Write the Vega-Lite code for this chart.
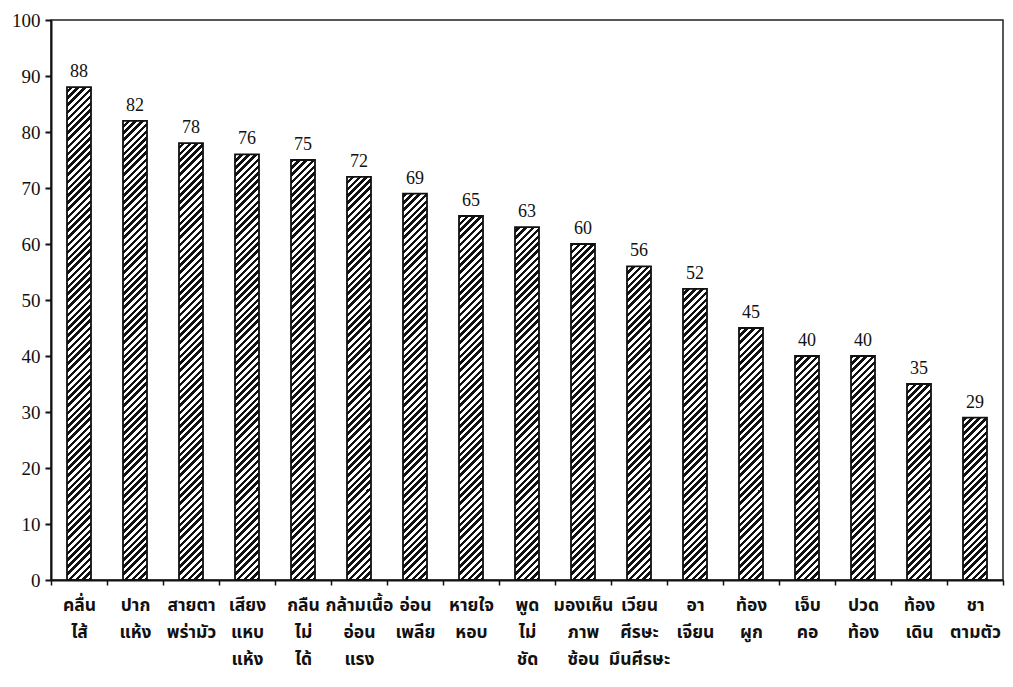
{
"$schema": "https://vega.github.io/schema/vega-lite/v6.json",
"width": 952, "height": 560,
"autosize": "none",
"padding": {"left": 51, "top": 20, "right": 10, "bottom": 107},
"background": "white",
"config": {
 "view": {"stroke": "#222", "strokeWidth": 1.5},
 "axisY": {"domainColor": "#111", "domainWidth": 2, "tickColor": "#111", "tickWidth": 2, "tickSize": 6, "labelFont": "Liberation Serif", "labelFontSize": 19, "labelColor": "#111", "labelPadding": 5, "grid": false, "title": null},
 "axisX": {"domainColor": "#111", "domainWidth": 2, "tickColor": "#111", "tickWidth": 1.5, "tickSize": 5, "tickBand": "extent", "labelFont": "Noto Sans Thai, Loma, Garuda, sans-serif", "labelFontSize": 17.5, "labelFontWeight": "bold", "labelColor": "#111", "labelAngle": 0, "labelPadding": 11, "labelLineHeight": 27, "labelBaseline": "top", "title": null, "grid": false}
},
"data": {"values": [
 {"symptom": "คลื่น|ไส้", "pct": 88},
 {"symptom": "ปาก|แห้ง", "pct": 82},
 {"symptom": "สายตา|พร่ามัว", "pct": 78},
 {"symptom": "เสียง|แหบ|แห้ง", "pct": 76},
 {"symptom": "กลืน|ไม่|ได้", "pct": 75},
 {"symptom": "กล้ามเนื้อ|อ่อน|แรง", "pct": 72},
 {"symptom": "อ่อน|เพลีย", "pct": 69},
 {"symptom": "หายใจ|หอบ", "pct": 65},
 {"symptom": "พูด|ไม่|ชัด", "pct": 63},
 {"symptom": "มองเห็น|ภาพ|ซ้อน", "pct": 60},
 {"symptom": "เวียน|ศีรษะ|มึนศีรษะ", "pct": 56},
 {"symptom": "อา|เจียน", "pct": 52},
 {"symptom": "ท้อง|ผูก", "pct": 45},
 {"symptom": "เจ็บ|คอ", "pct": 40},
 {"symptom": "ปวด|ท้อง", "pct": 40},
 {"symptom": "ท้อง|เดิน", "pct": 35},
 {"symptom": "ชา|ตามตัว", "pct": 29}
]},
"encoding": {
 "x": {"field": "symptom", "type": "nominal", "sort": null, "title": null,
  "scale": {"paddingInner": 0, "paddingOuter": 0},
  "axis": {"labelExpr": "split(datum.label, '|')"}}
},
"layer": [
 {"mark": {"type": "bar", "width": 24, "fill": {"gradient": "linear", "x1": 0, "y1": 0, "x2": 0.050151, "y2": 1.053167, "stops": [
{"offset":0,"color":"#111"},{"offset":0.00658,"color":"#111"},{"offset":0.00658,"color":"#fff"},{"offset":0.01316,"color":"#fff"},
{"offset":0.01316,"color":"#111"},{"offset":0.01974,"color":"#111"},{"offset":0.01974,"color":"#fff"},{"offset":0.02632,"color":"#fff"},
{"offset":0.02632,"color":"#111"},{"offset":0.03289,"color":"#111"},{"offset":0.03289,"color":"#fff"},{"offset":0.03947,"color":"#fff"},
{"offset":0.03947,"color":"#111"},{"offset":0.04605,"color":"#111"},{"offset":0.04605,"color":"#fff"},{"offset":0.05263,"color":"#fff"},
{"offset":0.05263,"color":"#111"},{"offset":0.05921,"color":"#111"},{"offset":0.05921,"color":"#fff"},{"offset":0.06579,"color":"#fff"},
{"offset":0.06579,"color":"#111"},{"offset":0.07237,"color":"#111"},{"offset":0.07237,"color":"#fff"},{"offset":0.07895,"color":"#fff"},
{"offset":0.07895,"color":"#111"},{"offset":0.08553,"color":"#111"},{"offset":0.08553,"color":"#fff"},{"offset":0.09211,"color":"#fff"},
{"offset":0.09211,"color":"#111"},{"offset":0.09868,"color":"#111"},{"offset":0.09868,"color":"#fff"},{"offset":0.10526,"color":"#fff"},
{"offset":0.10526,"color":"#111"},{"offset":0.11184,"color":"#111"},{"offset":0.11184,"color":"#fff"},{"offset":0.11842,"color":"#fff"},
{"offset":0.11842,"color":"#111"},{"offset":0.125,"color":"#111"},{"offset":0.125,"color":"#fff"},{"offset":0.13158,"color":"#fff"},
{"offset":0.13158,"color":"#111"},{"offset":0.13816,"color":"#111"},{"offset":0.13816,"color":"#fff"},{"offset":0.14474,"color":"#fff"},
{"offset":0.14474,"color":"#111"},{"offset":0.15132,"color":"#111"},{"offset":0.15132,"color":"#fff"},{"offset":0.15789,"color":"#fff"},
{"offset":0.15789,"color":"#111"},{"offset":0.16447,"color":"#111"},{"offset":0.16447,"color":"#fff"},{"offset":0.17105,"color":"#fff"},
{"offset":0.17105,"color":"#111"},{"offset":0.17763,"color":"#111"},{"offset":0.17763,"color":"#fff"},{"offset":0.18421,"color":"#fff"},
{"offset":0.18421,"color":"#111"},{"offset":0.19079,"color":"#111"},{"offset":0.19079,"color":"#fff"},{"offset":0.19737,"color":"#fff"},
{"offset":0.19737,"color":"#111"},{"offset":0.20395,"color":"#111"},{"offset":0.20395,"color":"#fff"},{"offset":0.21053,"color":"#fff"},
{"offset":0.21053,"color":"#111"},{"offset":0.21711,"color":"#111"},{"offset":0.21711,"color":"#fff"},{"offset":0.22368,"color":"#fff"},
{"offset":0.22368,"color":"#111"},{"offset":0.23026,"color":"#111"},{"offset":0.23026,"color":"#fff"},{"offset":0.23684,"color":"#fff"},
{"offset":0.23684,"color":"#111"},{"offset":0.24342,"color":"#111"},{"offset":0.24342,"color":"#fff"},{"offset":0.25,"color":"#fff"},
{"offset":0.25,"color":"#111"},{"offset":0.25658,"color":"#111"},{"offset":0.25658,"color":"#fff"},{"offset":0.26316,"color":"#fff"},
{"offset":0.26316,"color":"#111"},{"offset":0.26974,"color":"#111"},{"offset":0.26974,"color":"#fff"},{"offset":0.27632,"color":"#fff"},
{"offset":0.27632,"color":"#111"},{"offset":0.28289,"color":"#111"},{"offset":0.28289,"color":"#fff"},{"offset":0.28947,"color":"#fff"},
{"offset":0.28947,"color":"#111"},{"offset":0.29605,"color":"#111"},{"offset":0.29605,"color":"#fff"},{"offset":0.30263,"color":"#fff"},
{"offset":0.30263,"color":"#111"},{"offset":0.30921,"color":"#111"},{"offset":0.30921,"color":"#fff"},{"offset":0.31579,"color":"#fff"},
{"offset":0.31579,"color":"#111"},{"offset":0.32237,"color":"#111"},{"offset":0.32237,"color":"#fff"},{"offset":0.32895,"color":"#fff"},
{"offset":0.32895,"color":"#111"},{"offset":0.33553,"color":"#111"},{"offset":0.33553,"color":"#fff"},{"offset":0.34211,"color":"#fff"},
{"offset":0.34211,"color":"#111"},{"offset":0.34868,"color":"#111"},{"offset":0.34868,"color":"#fff"},{"offset":0.35526,"color":"#fff"},
{"offset":0.35526,"color":"#111"},{"offset":0.36184,"color":"#111"},{"offset":0.36184,"color":"#fff"},{"offset":0.36842,"color":"#fff"},
{"offset":0.36842,"color":"#111"},{"offset":0.375,"color":"#111"},{"offset":0.375,"color":"#fff"},{"offset":0.38158,"color":"#fff"},
{"offset":0.38158,"color":"#111"},{"offset":0.38816,"color":"#111"},{"offset":0.38816,"color":"#fff"},{"offset":0.39474,"color":"#fff"},
{"offset":0.39474,"color":"#111"},{"offset":0.40132,"color":"#111"},{"offset":0.40132,"color":"#fff"},{"offset":0.40789,"color":"#fff"},
{"offset":0.40789,"color":"#111"},{"offset":0.41447,"color":"#111"},{"offset":0.41447,"color":"#fff"},{"offset":0.42105,"color":"#fff"},
{"offset":0.42105,"color":"#111"},{"offset":0.42763,"color":"#111"},{"offset":0.42763,"color":"#fff"},{"offset":0.43421,"color":"#fff"},
{"offset":0.43421,"color":"#111"},{"offset":0.44079,"color":"#111"},{"offset":0.44079,"color":"#fff"},{"offset":0.44737,"color":"#fff"},
{"offset":0.44737,"color":"#111"},{"offset":0.45395,"color":"#111"},{"offset":0.45395,"color":"#fff"},{"offset":0.46053,"color":"#fff"},
{"offset":0.46053,"color":"#111"},{"offset":0.46711,"color":"#111"},{"offset":0.46711,"color":"#fff"},{"offset":0.47368,"color":"#fff"},
{"offset":0.47368,"color":"#111"},{"offset":0.48026,"color":"#111"},{"offset":0.48026,"color":"#fff"},{"offset":0.48684,"color":"#fff"},
{"offset":0.48684,"color":"#111"},{"offset":0.49342,"color":"#111"},{"offset":0.49342,"color":"#fff"},{"offset":0.5,"color":"#fff"},
{"offset":0.5,"color":"#111"},{"offset":0.50658,"color":"#111"},{"offset":0.50658,"color":"#fff"},{"offset":0.51316,"color":"#fff"},
{"offset":0.51316,"color":"#111"},{"offset":0.51974,"color":"#111"},{"offset":0.51974,"color":"#fff"},{"offset":0.52632,"color":"#fff"},
{"offset":0.52632,"color":"#111"},{"offset":0.53289,"color":"#111"},{"offset":0.53289,"color":"#fff"},{"offset":0.53947,"color":"#fff"},
{"offset":0.53947,"color":"#111"},{"offset":0.54605,"color":"#111"},{"offset":0.54605,"color":"#fff"},{"offset":0.55263,"color":"#fff"},
{"offset":0.55263,"color":"#111"},{"offset":0.55921,"color":"#111"},{"offset":0.55921,"color":"#fff"},{"offset":0.56579,"color":"#fff"},
{"offset":0.56579,"color":"#111"},{"offset":0.57237,"color":"#111"},{"offset":0.57237,"color":"#fff"},{"offset":0.57895,"color":"#fff"},
{"offset":0.57895,"color":"#111"},{"offset":0.58553,"color":"#111"},{"offset":0.58553,"color":"#fff"},{"offset":0.59211,"color":"#fff"},
{"offset":0.59211,"color":"#111"},{"offset":0.59868,"color":"#111"},{"offset":0.59868,"color":"#fff"},{"offset":0.60526,"color":"#fff"},
{"offset":0.60526,"color":"#111"},{"offset":0.61184,"color":"#111"},{"offset":0.61184,"color":"#fff"},{"offset":0.61842,"color":"#fff"},
{"offset":0.61842,"color":"#111"},{"offset":0.625,"color":"#111"},{"offset":0.625,"color":"#fff"},{"offset":0.63158,"color":"#fff"},
{"offset":0.63158,"color":"#111"},{"offset":0.63816,"color":"#111"},{"offset":0.63816,"color":"#fff"},{"offset":0.64474,"color":"#fff"},
{"offset":0.64474,"color":"#111"},{"offset":0.65132,"color":"#111"},{"offset":0.65132,"color":"#fff"},{"offset":0.65789,"color":"#fff"},
{"offset":0.65789,"color":"#111"},{"offset":0.66447,"color":"#111"},{"offset":0.66447,"color":"#fff"},{"offset":0.67105,"color":"#fff"},
{"offset":0.67105,"color":"#111"},{"offset":0.67763,"color":"#111"},{"offset":0.67763,"color":"#fff"},{"offset":0.68421,"color":"#fff"},
{"offset":0.68421,"color":"#111"},{"offset":0.69079,"color":"#111"},{"offset":0.69079,"color":"#fff"},{"offset":0.69737,"color":"#fff"},
{"offset":0.69737,"color":"#111"},{"offset":0.70395,"color":"#111"},{"offset":0.70395,"color":"#fff"},{"offset":0.71053,"color":"#fff"},
{"offset":0.71053,"color":"#111"},{"offset":0.71711,"color":"#111"},{"offset":0.71711,"color":"#fff"},{"offset":0.72368,"color":"#fff"},
{"offset":0.72368,"color":"#111"},{"offset":0.73026,"color":"#111"},{"offset":0.73026,"color":"#fff"},{"offset":0.73684,"color":"#fff"},
{"offset":0.73684,"color":"#111"},{"offset":0.74342,"color":"#111"},{"offset":0.74342,"color":"#fff"},{"offset":0.75,"color":"#fff"},
{"offset":0.75,"color":"#111"},{"offset":0.75658,"color":"#111"},{"offset":0.75658,"color":"#fff"},{"offset":0.76316,"color":"#fff"},
{"offset":0.76316,"color":"#111"},{"offset":0.76974,"color":"#111"},{"offset":0.76974,"color":"#fff"},{"offset":0.77632,"color":"#fff"},
{"offset":0.77632,"color":"#111"},{"offset":0.78289,"color":"#111"},{"offset":0.78289,"color":"#fff"},{"offset":0.78947,"color":"#fff"},
{"offset":0.78947,"color":"#111"},{"offset":0.79605,"color":"#111"},{"offset":0.79605,"color":"#fff"},{"offset":0.80263,"color":"#fff"},
{"offset":0.80263,"color":"#111"},{"offset":0.80921,"color":"#111"},{"offset":0.80921,"color":"#fff"},{"offset":0.81579,"color":"#fff"},
{"offset":0.81579,"color":"#111"},{"offset":0.82237,"color":"#111"},{"offset":0.82237,"color":"#fff"},{"offset":0.82895,"color":"#fff"},
{"offset":0.82895,"color":"#111"},{"offset":0.83553,"color":"#111"},{"offset":0.83553,"color":"#fff"},{"offset":0.84211,"color":"#fff"},
{"offset":0.84211,"color":"#111"},{"offset":0.84868,"color":"#111"},{"offset":0.84868,"color":"#fff"},{"offset":0.85526,"color":"#fff"},
{"offset":0.85526,"color":"#111"},{"offset":0.86184,"color":"#111"},{"offset":0.86184,"color":"#fff"},{"offset":0.86842,"color":"#fff"},
{"offset":0.86842,"color":"#111"},{"offset":0.875,"color":"#111"},{"offset":0.875,"color":"#fff"},{"offset":0.88158,"color":"#fff"},
{"offset":0.88158,"color":"#111"},{"offset":0.88816,"color":"#111"},{"offset":0.88816,"color":"#fff"},{"offset":0.89474,"color":"#fff"},
{"offset":0.89474,"color":"#111"},{"offset":0.90132,"color":"#111"},{"offset":0.90132,"color":"#fff"},{"offset":0.90789,"color":"#fff"},
{"offset":0.90789,"color":"#111"},{"offset":0.91447,"color":"#111"},{"offset":0.91447,"color":"#fff"},{"offset":0.92105,"color":"#fff"},
{"offset":0.92105,"color":"#111"},{"offset":0.92763,"color":"#111"},{"offset":0.92763,"color":"#fff"},{"offset":0.93421,"color":"#fff"},
{"offset":0.93421,"color":"#111"},{"offset":0.94079,"color":"#111"},{"offset":0.94079,"color":"#fff"},{"offset":0.94737,"color":"#fff"},
{"offset":0.94737,"color":"#111"},{"offset":0.95395,"color":"#111"},{"offset":0.95395,"color":"#fff"},{"offset":0.96053,"color":"#fff"},
{"offset":0.96053,"color":"#111"},{"offset":0.96711,"color":"#111"},{"offset":0.96711,"color":"#fff"},{"offset":0.97368,"color":"#fff"},
{"offset":0.97368,"color":"#111"},{"offset":0.98026,"color":"#111"},{"offset":0.98026,"color":"#fff"},{"offset":0.98684,"color":"#fff"},
{"offset":0.98684,"color":"#111"},{"offset":0.99342,"color":"#111"},{"offset":0.99342,"color":"#fff"},{"offset":1,"color":"#fff"}
 ]}},
  "encoding": {"y": {"datum": 90, "type": "quantitative", "scale": {"domain": [0, 100], "nice": false}, "title": null, "axis": {"values": [0,10,20,30,40,50,60,70,80,90,100]}}}
 },
 {"mark": {"type": "bar", "width": 28, "fill": "white"},
  "encoding": {"y": {"field": "pct", "type": "quantitative", "title": null}, "y2": {"datum": 90}}
 },
 {"mark": {"type": "bar", "width": 24, "fillOpacity": 0, "stroke": "#111", "strokeWidth": 1.8},
  "encoding": {"y": {"field": "pct", "type": "quantitative", "title": null}}
 },
 {"mark": {"type": "text", "baseline": "bottom", "dy": -6, "font": "Liberation Serif", "fontSize": 18, "color": "#111"},
  "encoding": {"y": {"field": "pct", "type": "quantitative", "title": null}, "text": {"field": "pct", "type": "quantitative"}}
 }
]
}
